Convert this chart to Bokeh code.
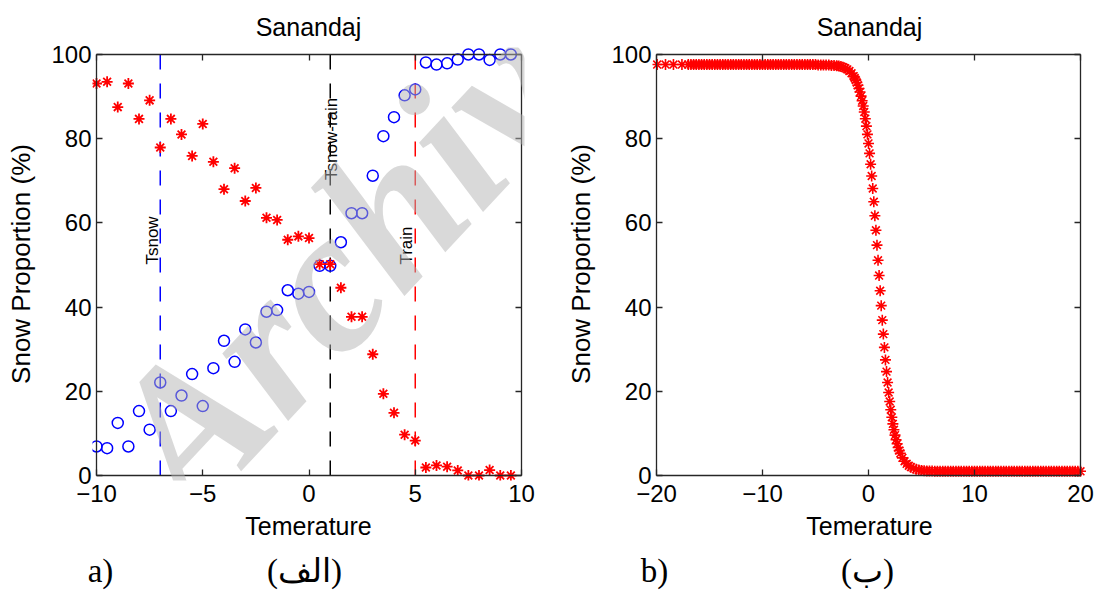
import math
from bokeh.plotting import figure
from bokeh.models import Range1d, LinearAxis, FixedTicker, Label
from bokeh.layouts import row
from bokeh.embed import file_html
from bokeh.resources import INLINE
from bokeh.core.properties import value

# ---------------- data: panel a (observations) ----------------
temp_obs = [-10.0, -9.5, -9.0, -8.5, -8.0, -7.5, -7.0, -6.5, -6.0, -5.5,
            -5.0, -4.5, -4.0, -3.5, -3.0, -2.5, -2.0, -1.5, -1.0, -0.5,
            0.0, 0.5, 1.0, 1.5, 2.0, 2.5, 3.0, 3.5, 4.0, 4.5,
            5.0, 5.5, 6.0, 6.5, 7.0, 7.5, 8.0, 8.5, 9.0, 9.5]
snow_obs = [93.1, 93.5, 87.5, 93.1, 84.7, 89.1, 77.9, 84.7, 81.0, 75.9,
            83.5, 74.5, 68.0, 73.0, 65.2, 68.3, 61.2, 60.7, 56.0, 56.8,
            56.4, 50.2, 50.2, 44.6, 37.7, 37.7, 28.8, 19.4, 14.9, 9.7,
            8.3, 1.9, 2.4, 2.1, 1.2, 0.0, 0.0, 1.3, 0.0, 0.0]
rain_obs = [6.9, 6.5, 12.5, 6.9, 15.3, 10.9, 22.1, 15.3, 19.0, 24.1,
            16.5, 25.5, 32.0, 27.0, 34.7, 31.6, 38.9, 39.3, 44.0, 43.2,
            43.6, 49.8, 49.8, 55.4, 62.3, 62.3, 71.2, 80.6, 85.1, 90.3,
            91.7, 98.1, 97.6, 97.9, 98.8, 100.0, 100.0, 98.7, 100.0, 100.0]

thr_temp = [-7.0, 1.0, 5.0]
thr_names = ["Tsnow", "Tsnow-rain", "Train"]

# ---------------- data: panel b (fitted curve) ----------------
curve_temp = [
    -19.94, -19.15, -18.4, -17.6,
    -17.0, -16.75, -16.5, -16.25, -16.0, -15.75, -15.5, -15.25, -15.0, -14.75,
    -14.5, -14.25, -14.0, -13.75, -13.5, -13.25, -13.0, -12.75, -12.5, -12.25,
    -12.0, -11.75, -11.5, -11.25, -11.0, -10.75, -10.5, -10.25, -10.0, -9.75,
    -9.5, -9.25, -9.0, -8.75, -8.5, -8.25, -8.0, -7.75, -7.5, -7.25,
    -7.0, -6.75, -6.5, -6.25, -6.0, -5.75, -5.5, -5.25, -5.0, -4.75,
    -4.5, -4.25, -4.0, -3.75, -3.5, -3.25,
    -3.0, -2.8, -2.6, -2.4, -2.2, -2.0, -1.8, -1.6, -1.4, -1.3,
    -1.2, -1.1, -1.0, -0.9, -0.8, -0.7, -0.6, -0.5, -0.4, -0.3,
    -0.2, -0.1, 0.0, 0.1, 0.2, 0.3, 0.4, 0.5, 0.6, 0.7,
    0.8, 0.9, 1.0, 1.1, 1.2, 1.3, 1.4, 1.5, 1.6, 1.7,
    1.8, 1.9, 2.0, 2.1, 2.2, 2.3, 2.4, 2.5, 2.6, 2.7,
    2.8, 2.9, 3.0, 3.2, 3.4, 3.6, 3.8, 4.0, 4.25, 4.5,
    4.75, 5.0, 5.25, 5.5,
    5.75, 6.0, 6.25, 6.5, 6.75, 7.0, 7.25, 7.5, 7.75, 8.0,
    8.25, 8.5, 8.75, 9.0, 9.25, 9.5, 9.75, 10.0, 10.25, 10.5,
    10.75, 11.0, 11.25, 11.5, 11.75, 12.0, 12.25, 12.5, 12.75, 13.0,
    13.25, 13.5, 13.75, 14.0, 14.25, 14.5, 14.75, 15.0, 15.25, 15.5,
    15.75, 16.0, 16.25, 16.5, 16.75, 17.0, 17.25, 17.5, 17.75, 18.0,
    18.25, 18.5, 18.75, 19.0, 19.25, 19.5, 19.75, 20.0]
curve_snow = [
    97.6, 97.6, 97.6, 97.6,
    97.6, 97.6, 97.6, 97.6, 97.6, 97.6, 97.6, 97.6, 97.6, 97.6,
    97.6, 97.6, 97.6, 97.6, 97.6, 97.6, 97.6, 97.6, 97.6, 97.6,
    97.6, 97.6, 97.6, 97.6, 97.6, 97.6, 97.6, 97.6, 97.6, 97.6,
    97.6, 97.6, 97.6, 97.6, 97.6, 97.6, 97.6, 97.6, 97.6, 97.6,
    97.6, 97.6, 97.6, 97.6, 97.6, 97.6, 97.6, 97.6, 97.6, 97.5,
    97.5, 97.5, 97.5, 97.5, 97.4, 97.4,
    97.34, 97.25, 97.13, 96.97, 96.75, 96.46, 96.06, 95.54, 94.84, 94.41,
    93.91, 93.33, 92.68, 91.93, 91.08, 90.10, 89.00, 87.75, 86.34, 84.75,
    82.99, 81.03, 78.87, 76.50, 73.92, 71.14, 68.17, 65.01, 61.70, 58.25,
    54.71, 51.11, 47.49, 43.89, 40.35, 36.90, 33.59, 30.43, 27.46, 24.68,
    22.10, 19.73, 17.57, 15.61, 13.84, 12.26, 10.86, 9.60, 8.50, 7.53,
    6.67, 5.92, 5.27, 4.20, 3.39, 2.78, 2.33, 1.99, 1.70, 1.47,
    1.32, 1.22, 1.15, 1.10,
    1.07, 1.05, 1.04, 1.03, 1.02, 1.0, 1.0, 1.0, 1.0, 1.0,
    1.0, 1.0, 1.0, 1.0, 1.0, 1.0, 1.0, 1.0, 1.0, 1.0,
    1.0, 1.0, 1.0, 1.0, 1.0, 1.0, 1.0, 1.0, 1.0, 1.0,
    1.0, 1.0, 1.0, 1.0, 1.0, 1.0, 1.0, 1.0, 1.0, 1.0,
    1.0, 1.0, 1.0, 1.0, 1.0, 1.0, 1.0, 1.0, 1.0, 1.0,
    1.0, 1.0, 1.0, 1.0, 1.0, 1.0, 1.0, 1.0]

# ---------------- ticks and captions ----------------
y_ticks = [0, 20, 40, 60, 80, 100]
x_ticks_a = [-10, -5, 0, 5, 10]
x_ticks_b = [-20, -10, 0, 10, 20]
x_labels_a = {-10: "\u221210", -5: "\u22125", 0: "0", 5: "5", 10: "10"}
x_labels_b = {-20: "\u221220", -10: "\u221210", 0: "0", 10: "10", 20: "20"}
caption_a = ["a)", "(\u0627\u0644\u0641)"]
caption_b = ["b)", "(\u0628)"]

FONT = "Liberation Sans"
AX = "#262626"


def frame_axis(p, side, loc, bounds, ticks):
    """Box line with inward ticks, drawn at a fixed data location."""
    ax = LinearAxis(fixed_location=loc, bounds=bounds,
                    ticker=FixedTicker(ticks=ticks))
    ax.axis_line_color = AX
    ax.axis_line_width = 1.3
    ax.major_tick_line_color = AX
    ax.major_tick_line_width = 1.3
    ax.major_tick_in = 6
    ax.major_tick_out = 0
    ax.minor_tick_line_color = None
    ax.major_label_text_color = None
    ax.major_label_text_font_size = "1px"
    ax.major_label_standoff = 0
    p.add_layout(ax, side)


def label_axis(p, side, ticks, overrides, label, font, size, standoff,
               label_size="25px", label_standoff=4):
    """Tick labels / axis title only (no line, no ticks)."""
    ax = LinearAxis(ticker=FixedTicker(ticks=ticks),
                    major_label_overrides=overrides)
    if label:
        ax.axis_label = label
    ax.axis_line_color = None
    ax.major_tick_line_color = None
    ax.minor_tick_line_color = None
    ax.major_tick_in = 0
    ax.major_tick_out = 0
    ax.major_label_text_font = font
    ax.major_label_text_font_size = size
    ax.major_label_text_color = "black"
    ax.major_label_standoff = standoff
    ax.axis_label_text_font = FONT
    ax.axis_label_text_font_style = "normal"
    ax.axis_label_text_font_size = label_size
    ax.axis_label_text_color = "black"
    ax.axis_label_standoff = label_standoff
    p.add_layout(ax, side)
    return ax


def make_panel(xlo, xhi, pad_l, pad_r, xticks, xlabels, mb_left, mb_right,
               caption_x, caption_txt):
    p = figure(width=547, height=591,
               x_range=Range1d(xlo - pad_l, xhi + pad_r),
               y_range=Range1d(-5 / 4.23, 100 + 7 / 4.23),
               output_backend="svg", toolbar_location=None,
               x_axis_location=None, y_axis_location=None,
               min_border_left=mb_left, min_border_right=mb_right,
               min_border_top=47, min_border_bottom=109,
               outline_line_color=None, background_fill_color="white",
               border_fill_color="white")
    p.grid.visible = False
    # labels
    label_axis(p, "below", xticks, xlabels, "Temerature", FONT, "24px", 4,
               label_size="25px", label_standoff=7)
    label_axis(p, "left", y_ticks, {t: str(t) for t in y_ticks},
               "Snow Proportion (%)", FONT, "24px", 1,
               label_size="26px", label_standoff=12)
    # box
    frame_axis(p, "below", 0, (xlo, xhi), xticks)
    frame_axis(p, "above", 100, (xlo, xhi), xticks)
    frame_axis(p, "left", xlo, (0, 100), y_ticks)
    frame_axis(p, "right", xhi, (0, 100), y_ticks)
    # panel caption (a / b)
    label_axis(p, "below", caption_x, dict(zip(caption_x, caption_txt)), None,
               "Liberation Serif", "33px", 10)

    p.title.text = "Sanandaj"
    p.title.text_font = FONT
    p.title.text_font_size = "25px"
    p.title.text_font_style = "normal"
    p.title.text_color = "black"
    p.title.align = "center"
    p.title.standoff = 14
    return p


# ---------------- panel a ----------------
pa = make_panel(-10, 10, 4 / 21.25, 3 / 21.25, x_ticks_a, x_labels_a, 92, 23,
                [-9.81, -0.21], caption_a)

pa.segment(x0=thr_temp, y0=0, x1=thr_temp, y1=100,
           line_color=["#0000ff", "#000000", "#ff0000"],
           line_width=1.5, line_dash="15 14")
pa.text(x=[-7.38, 1.06, 4.59], y=[50.1, 70.2, 50.1], text=thr_names,
        angle=math.pi / 2, text_font=value(FONT), text_font_size="17px",
        text_color="black", text_align="left", text_baseline="middle")
pa.scatter(temp_obs, rain_obs, marker="circle", size=11, fill_color=None,
           line_color="#0000ff", line_width=1.5)
pa.scatter(temp_obs, snow_obs, marker="asterisk", size=11,
           line_color="#ff0000", line_width=1.8)

# watermark (drawn over the data, semi-transparent)
pa.add_layout(Label(x=-7.9, y=-0.24, text="Archive", angle=math.radians(47),
                    text_font="Liberation Serif", text_font_size="205px",
                    text_font_style="bold italic", text_color="#b4b4b4",
                    text_alpha=0.5, text_baseline="alphabetic"))

# ---------------- panel b ----------------
pb = make_panel(-20, 20, 4 / 10.6, 6 / 10.6, x_ticks_b, x_labels_b, 105, 8,
                [-20.19, -0.1], caption_b)
pb.scatter(curve_temp, curve_snow, marker="asterisk", size=11,
           line_color="#ff0000", line_width=1.6)

layout = row(pa, pb)
open("out.html", "w").write(file_html(layout, INLINE))
